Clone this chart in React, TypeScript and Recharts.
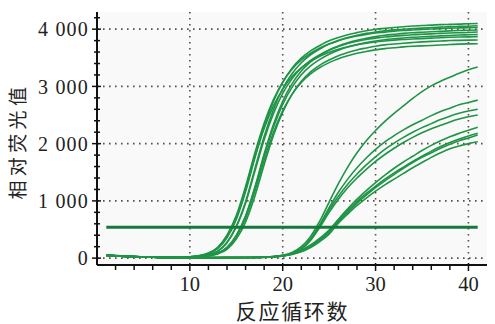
import { LineChart, Line, XAxis, YAxis, CartesianGrid, Label } from "recharts";

// PCR cycle numbers
const cycles = [
  1, 2, 3, 4, 5, 6, 7, 8, 9, 10, 11, 12, 13, 14, 15, 16, 17, 18, 19, 20, 21,
  22, 23, 24, 25, 26, 27, 28, 29, 30, 31, 32, 33, 34, 35, 36, 37, 38, 39, 40, 41,
];

// early group (Ct ~15)
const g1a = [52, 42, 34, 28, 22, 18, 15, 14, 15, 22, 40, 78, 164, 355, 677, 1160, 1750, 2300, 2739, 3071, 3317, 3493, 3620, 3715, 3797, 3854, 3903, 3940, 3973, 3998, 4014, 4030, 4043, 4055, 4063, 4071, 4080, 4084, 4088, 4096, 4100];
const g1b = [48, 40, 33, 27, 21, 17, 14, 12, 13, 18, 32, 61, 122, 276, 560, 987, 1559, 2127, 2594, 2960, 3220, 3414, 3553, 3654, 3739, 3800, 3853, 3894, 3926, 3950, 3971, 3987, 3999, 4011, 4019, 4028, 4036, 4044, 4048, 4052, 4060];
const g1c = [55, 44, 35, 28, 22, 18, 15, 14, 16, 24, 44, 89, 189, 403, 746, 1253, 1838, 2358, 2769, 3075, 3301, 3462, 3579, 3671, 3744, 3800, 3845, 3881, 3909, 3933, 3949, 3966, 3978, 3986, 3994, 4002, 4010, 4018, 4022, 4026, 4030];
const g1d = [46, 38, 31, 25, 20, 16, 13, 11, 11, 14, 28, 44, 88, 188, 399, 738, 1241, 1819, 2334, 2741, 3044, 3268, 3427, 3543, 3635, 3707, 3763, 3806, 3842, 3870, 3894, 3910, 3926, 3938, 3946, 3954, 3962, 3970, 3978, 3982, 3986];
const g1e = [50, 41, 33, 27, 21, 17, 14, 12, 13, 18, 32, 59, 119, 269, 545, 960, 1517, 2070, 2524, 2880, 3132, 3322, 3456, 3555, 3638, 3697, 3749, 3788, 3820, 3843, 3863, 3879, 3891, 3903, 3911, 3918, 3926, 3934, 3938, 3942, 3950];
const g1f = [47, 39, 32, 26, 20, 16, 13, 11, 11, 14, 28, 43, 86, 184, 391, 723, 1216, 1783, 2287, 2686, 2983, 3202, 3359, 3472, 3562, 3632, 3687, 3730, 3765, 3793, 3816, 3832, 3847, 3859, 3867, 3875, 3883, 3890, 3898, 3902, 3906];
const g1g = [53, 43, 35, 28, 22, 18, 15, 14, 16, 24, 43, 85, 182, 387, 716, 1204, 1765, 2264, 2659, 2953, 3170, 3324, 3437, 3526, 3595, 3649, 3692, 3727, 3754, 3777, 3793, 3808, 3820, 3827, 3835, 3843, 3851, 3858, 3862, 3866, 3870];
const g1h = [45, 37, 30, 24, 19, 15, 12, 10, 10, 12, 27, 39, 73, 153, 333, 630, 1081, 1631, 2143, 2552, 2861, 3090, 3255, 3373, 3461, 3537, 3591, 3637, 3671, 3702, 3725, 3740, 3755, 3767, 3778, 3786, 3793, 3801, 3805, 3809, 3812];
const g1i = [49, 40, 32, 26, 20, 16, 13, 11, 11, 14, 27, 42, 83, 177, 376, 694, 1166, 1710, 2194, 2576, 2861, 3071, 3221, 3330, 3416, 3484, 3536, 3578, 3611, 3638, 3660, 3675, 3690, 3701, 3709, 3716, 3724, 3731, 3739, 3743, 3746];

// late group (Ct ~23.6 and ~25.3)
const e1 = [50, 40, 32, 26, 21, 17, 14, 12, 10, 9, 8, 8, 8, 9, 10, 11, 14, 19, 28, 48, 100, 200, 380, 650, 980, 1300, 1590, 1840, 2050, 2230, 2390, 2530, 2660, 2790, 2910, 3010, 3090, 3160, 3230, 3290, 3340];
const e2 = [48, 39, 31, 25, 20, 16, 13, 11, 10, 9, 8, 8, 8, 9, 10, 11, 13, 18, 26, 42, 80, 170, 340, 590, 880, 1150, 1380, 1580, 1750, 1900, 2030, 2140, 2240, 2330, 2410, 2490, 2560, 2620, 2680, 2720, 2760];
const e3 = [47, 38, 31, 25, 20, 16, 13, 11, 10, 9, 8, 8, 8, 9, 10, 11, 13, 17, 25, 40, 80, 165, 330, 570, 840, 1080, 1290, 1470, 1630, 1770, 1900, 2010, 2110, 2200, 2280, 2350, 2420, 2480, 2530, 2570, 2600];
const e4 = [46, 37, 30, 24, 19, 15, 12, 10, 9, 8, 7, 7, 7, 8, 9, 10, 12, 16, 23, 36, 75, 155, 310, 540, 800, 1030, 1230, 1400, 1550, 1690, 1810, 1920, 2020, 2110, 2190, 2260, 2320, 2380, 2430, 2470, 2500];
const l1 = [49, 40, 32, 26, 21, 17, 14, 12, 10, 9, 8, 8, 8, 9, 10, 11, 13, 17, 27, 50, 80, 140, 230, 350, 490, 680, 860, 1030, 1180, 1320, 1450, 1570, 1680, 1780, 1880, 1970, 2050, 2120, 2180, 2235, 2285];
const l2 = [47, 39, 31, 25, 20, 16, 13, 11, 10, 9, 8, 8, 8, 9, 10, 11, 12, 16, 25, 45, 75, 130, 215, 330, 470, 660, 830, 990, 1130, 1260, 1380, 1490, 1590, 1690, 1780, 1870, 1950, 2020, 2080, 2135, 2180];
const l3 = [46, 38, 30, 24, 19, 15, 12, 10, 9, 8, 7, 7, 7, 8, 9, 10, 12, 15, 23, 40, 70, 120, 200, 310, 450, 640, 800, 960, 1100, 1230, 1350, 1460, 1570, 1670, 1760, 1840, 1920, 1990, 2050, 2100, 2150];
const l4 = [45, 37, 30, 24, 19, 15, 12, 10, 9, 8, 7, 7, 7, 8, 9, 10, 11, 14, 22, 40, 65, 110, 185, 290, 420, 610, 770, 920, 1050, 1170, 1280, 1380, 1480, 1580, 1670, 1760, 1840, 1910, 1960, 2000, 2034];

// threshold line
const thresholdCycles = [1, 41];
const thresholdLevels = [540, 540];

const xMajorTicks = [10, 20, 30, 40];
const xAllTicks = [2, 4, 6, 8, 10, 12, 14, 16, 18, 20, 22, 24, 26, 28, 30, 32, 34, 36, 38, 40];
const yMajorTicks = [0, 1000, 2000, 3000, 4000];
const yAllTicks = [0, 200, 400, 600, 800, 1000, 1200, 1400, 1600, 1800, 2000, 2200, 2400, 2600, 2800, 3000, 3200, 3400, 3600, 3800, 4000, 4200];

const curves = [g1a, g1b, g1c, g1d, g1e, g1f, g1g, g1h, g1i, e1, e2, e3, e4, l1, l2, l3, l4];

const rows = cycles.map((c, i) => {
  const row: Record<string, number> = { cycle: c };
  curves.forEach((s, k) => {
    row["s" + k] = s[i];
  });
  return row;
});

const thresholdRows = thresholdCycles.map((c, i) => ({ cycle: c, level: thresholdLevels[i] }));

const serif = '"Liberation Serif", "DejaVu Serif", serif';
const cjk = '"Noto Sans CJK SC", "Noto Sans", sans-serif';
const ink = "#111";

const fmtY = (v: number) => (v === 0 ? "0" : v / 1000 + " 000");

function LeftTick(props: any) {
  const { x, y, payload } = props;
  const major = yMajorTicks.includes(payload.value);
  const ax = x + 8;
  return (
    <g>
      <line x1={ax - (major ? 5 : 3)} x2={ax + (major ? 4 : 3)} y1={y} y2={y} stroke={ink} strokeWidth={1.5} />
      {major && (
        <text x={x} y={y} dy="0.36em" textAnchor="end" fontSize={20} letterSpacing={1.2} fill="#222" fontFamily={serif}>
          {fmtY(payload.value)}
        </text>
      )}
    </g>
  );
}

function BottomTick(props: any) {
  const { x, y, payload } = props;
  const major = xMajorTicks.includes(payload.value);
  const ay = y - 12;
  return (
    <g>
      <line x1={x} x2={x} y1={ay - (major ? 2 : 0)} y2={ay + (major ? 6 : 5)} stroke={ink} strokeWidth={1.5} />
      {major && (
        <text x={x} y={ay + 11.5} dy="0.71em" textAnchor="middle" fontSize={20.5} fill="#222" fontFamily={serif}>
          {payload.value}
        </text>
      )}
    </g>
  );
}

function TopTick(props: any) {
  const { x, y } = props;
  return <line x1={x} x2={x} y1={y} y2={y + 4} stroke={ink} strokeWidth={1.5} />;
}

function RightTick(props: any) {
  const { x, y } = props;
  return <line x1={x - 4} x2={x} y1={y} y2={y} stroke={ink} strokeWidth={1.5} />;
}

export default function App() {
  return (
    <div style={{ position: "absolute", left: 0, top: 0, background: "#fff" }}>
      <LineChart width={495} height={324} data={rows} margin={{ top: 12, right: 8, left: 0, bottom: 0 }}>
        <CartesianGrid
          fill="#f9f9f9"
          stroke="#5b4d48"
          strokeWidth={1.6}
          strokeDasharray="1.6 4.4"
          horizontalValues={yMajorTicks}
          verticalValues={xMajorTicks}
        />
        <XAxis
          dataKey="cycle"
          type="number"
          domain={[0, 42]}
          allowDataOverflow
          ticks={xAllTicks}
          interval={0}
          height={59}
          tickSize={6}
          tickMargin={6}
          tickLine={false}
          tick={<BottomTick />}
          axisLine={{ stroke: ink, strokeWidth: 2 }}
        >
          <Label
            content={(p: any) => {
              const vb = p.viewBox;
              return (
                <text x={vb.x + vb.width / 2 + 0.5} y={vb.y + 53.5} textAnchor="middle" fontSize={21} letterSpacing={1.7} fill="#222" fontFamily={cjk}>
                  反应循环数
                </text>
              );
            }}
          />
        </XAxis>
        <XAxis
          xAxisId="top"
          orientation="top"
          dataKey="cycle"
          type="number"
          domain={[0, 42]}
          allowDataOverflow
          ticks={xAllTicks}
          interval={0}
          height={0}
          tickSize={0}
          tickMargin={0}
          tickLine={false}
          tick={<TopTick />}
          axisLine={{ stroke: ink, strokeWidth: 1.5 }}
        />
        <YAxis
          type="number"
          domain={[-120, 4300]}
          allowDataOverflow
          ticks={yAllTicks}
          interval={0}
          width={97}
          tickSize={6}
          tickMargin={2}
          tickLine={false}
          tick={<LeftTick />}
          axisLine={{ stroke: ink, strokeWidth: 2 }}
        >
          <Label
            content={(p: any) => {
              const vb = p.viewBox;
              const cx = vb.x + 25.5;
              const cy = vb.y + vb.height / 2 + 2.6;
              return (
                <text x={cx} y={cy} textAnchor="middle" fontSize={19} letterSpacing={4.4} fill="#222" fontFamily={cjk} transform={`rotate(-90, ${cx}, ${cy})`}>
                  相对荧光值
                </text>
              );
            }}
          />
        </YAxis>
        <YAxis
          yAxisId="right"
          orientation="right"
          type="number"
          domain={[-120, 4300]}
          allowDataOverflow
          ticks={yMajorTicks}
          interval={0}
          width={0}
          tickSize={0}
          tickMargin={0}
          tickLine={false}
          tick={<RightTick />}
          axisLine={{ stroke: ink, strokeWidth: 1.5 }}
        />
        {curves.map((_, k) => (
          <Line
            key={k}
            type="monotone"
            dataKey={"s" + k}
            stroke="#1f9446"
            strokeWidth={1.6}
            dot={false}
            isAnimationActive={false}
          />
        ))}
        <Line
          data={thresholdRows}
          dataKey="level"
          type="linear"
          stroke="#147a3a"
          strokeWidth={3}
          dot={false}
          isAnimationActive={false}
        />
      </LineChart>
    </div>
  );
}
